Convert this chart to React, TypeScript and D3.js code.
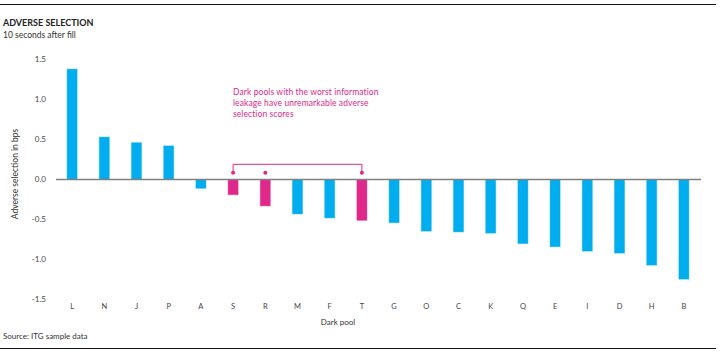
import React from "react";
import * as d3 from "d3";

const categories = ["L","N","J","P","A","S","R","M","F","T","G","O","C","K","Q","E","I","D","H","B"];
const values = [1.38,0.53,0.46,0.42,-0.11,-0.19,-0.33,-0.43,-0.48,-0.51,-0.54,-0.645,-0.655,-0.67,-0.8,-0.84,-0.895,-0.92,-1.07,-1.245];
const highlighted = ["S","R","T"];
const yTicks = [1.5,1.0,0.5,0.0,-0.5,-1.0,-1.5];
const annotationLines = ["Dark pools with the worst information","leakage have unremarkable adverse","selection scores"];
const bracketEnds = ["S","T"];
const bracketDots = ["S","R","T"];

const W = 721, H = 356;
const FONT = "Lato, 'DejaVu Sans', sans-serif";
const BLUE = "#00aeef";
const PINK = "#e0288a";

export default function App() {
  const x = d3.scaleBand<string>().domain(categories).range([56, 700]).paddingInner(0.69).paddingOuter(0.345);
  const y = d3.scaleLinear().domain([-1.5, 1.5]).range([299.5, 59.5]);
  const bw = x.bandwidth();
  const cx = (c: string) => (x(c) as number) + bw / 2;
  const y0 = y(0);
  const bracketY = y(0.19);
  const dotY = y(0.085);
  return (
    <svg width={W} height={H} style={{ position: "absolute", left: 0, top: 0, background: "#fff" }} fontFamily={FONT}>
      <line x1={0} x2={716} y1={4.5} y2={4.5} stroke="#111" strokeWidth={1} />
      <line x1={0} x2={716} y1={348.5} y2={348.5} stroke="#111" strokeWidth={1} />
      <text x={3} y={26} fontSize={9} fontWeight="bold" fill="#222">ADVERSE SELECTION</text>
      <text x={3} y={38} fontSize={8.5} fill="#333">10 seconds after fill</text>
      {yTicks.map((t) => (
        <text key={t} x={46} y={y(t)} dy="0.35em" textAnchor="end" fontSize={8} fill="#444">{d3.format(".1f")(t).replace("−", "-")}</text>
      ))}
      <text transform={`translate(18,${174}) rotate(-90)`} textAnchor="middle" fontSize={8.5} fill="#333">Adverse selection in bps</text>
      {categories.map((c, i) => {
        const v = values[i];
        const col = highlighted.includes(c) ? PINK : BLUE;
        return (
          <rect key={c} x={x(c)} y={Math.min(y(v), y0)} width={bw} height={Math.abs(y(v) - y0)} fill={col} stroke={col} strokeOpacity={0.45} strokeWidth={1} />
        );
      })}
      <line x1={56} x2={701} y1={y0} y2={y0} stroke="#808080" strokeWidth={1.5} />
      {categories.map((c) => (
        <text key={c} x={cx(c)} y={309} textAnchor="middle" fontSize={7.5} fill="#444">{c}</text>
      ))}
      <text x={338} y={325} textAnchor="middle" fontSize={8} fill="#333">Dark pool</text>
      <text x={3} y={339} fontSize={8} fill="#333">Source: ITG sample data</text>
      <path d={`M${cx(bracketEnds[0])},${dotY} V${bracketY} H${cx(bracketEnds[1])} V${dotY}`} fill="none" stroke={PINK} strokeWidth={1} />
      {bracketDots.map((c) => (
        <circle key={c} cx={cx(c)} cy={dotY} r={2} fill={PINK} />
      ))}
      {annotationLines.map((l, i) => (
        <text key={i} x={233} y={95 + i * 11} fontSize={8.5} fill={PINK} letterSpacing={0.1}>{l}</text>
      ))}
    </svg>
  );
}
